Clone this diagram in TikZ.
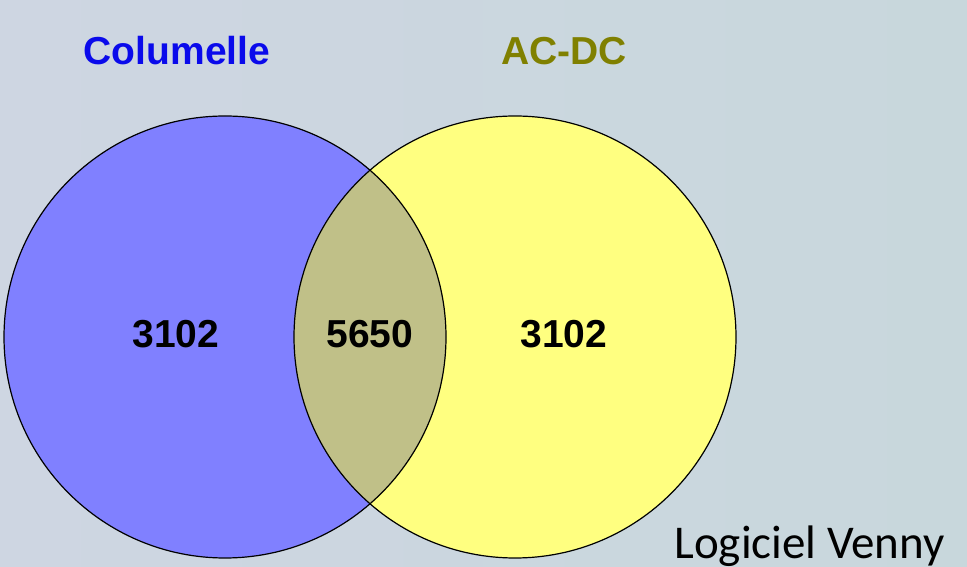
\documentclass[tikz,border=0pt]{standalone}
\usepackage{fontspec}
\setmainfont{Liberation Sans}
\newfontfamily\calib{Carlito}
\definecolor{fondL}{RGB}{206,214,226}
\definecolor{fondR}{RGB}{200,215,220}
\definecolor{bleuC}{RGB}{128,128,255}
\definecolor{jauneA}{RGB}{255,255,128}
\definecolor{communB}{RGB}{192,192,136}
\definecolor{titreB}{RGB}{10,10,235}
\definecolor{titreJ}{RGB}{128,128,0}
\tikzset{
  titre/.style={font=\fontsize{39}{39}\selectfont\bfseries, anchor=base},
  nombre/.style={font=\fontsize{39}{39}\selectfont\bfseries, anchor=base},
  contour/.style={draw=black, line width=1.2pt}
}
\begin{document}
\begin{tikzpicture}[x=1pt,y=1pt]
        \useasboundingbox (0,0) rectangle (967,567);
        \shade[left color=fondL, right color=fondR] (0,0) rectangle (967,567); % fond
        \coordinate (colum) at (225,230);
        \coordinate (acdc) at (515,230);
        \fill[bleuC] (colum) circle (221);
        \fill[jauneA] (acdc) circle (221);
        \begin{scope}
            \clip (colum) circle (221);
            \fill[communB] (acdc) circle (221); % intersection
        \end{scope}
        \draw[contour] (colum) circle (221);
        \draw[contour] (acdc) circle (221);
        \node[titre, text=titreB] (tColum) at (177,502) {Columelle};
        \node[titre, text=titreJ] (tAcdc) at (564,502) {AC-DC};
        \node[nombre] (nColum) at (176,219) {3102};
        \node[nombre] (nCommun) at (370,219) {5650};
        \node[nombre] (nAcdc) at (564,219) {3102};
        \node[font=\calib\fontsize{47}{47}\selectfont, anchor=base east, inner sep=0pt] (logiciel) at (945,8) {Logiciel Venny};
    \end{tikzpicture}
\end{document}
